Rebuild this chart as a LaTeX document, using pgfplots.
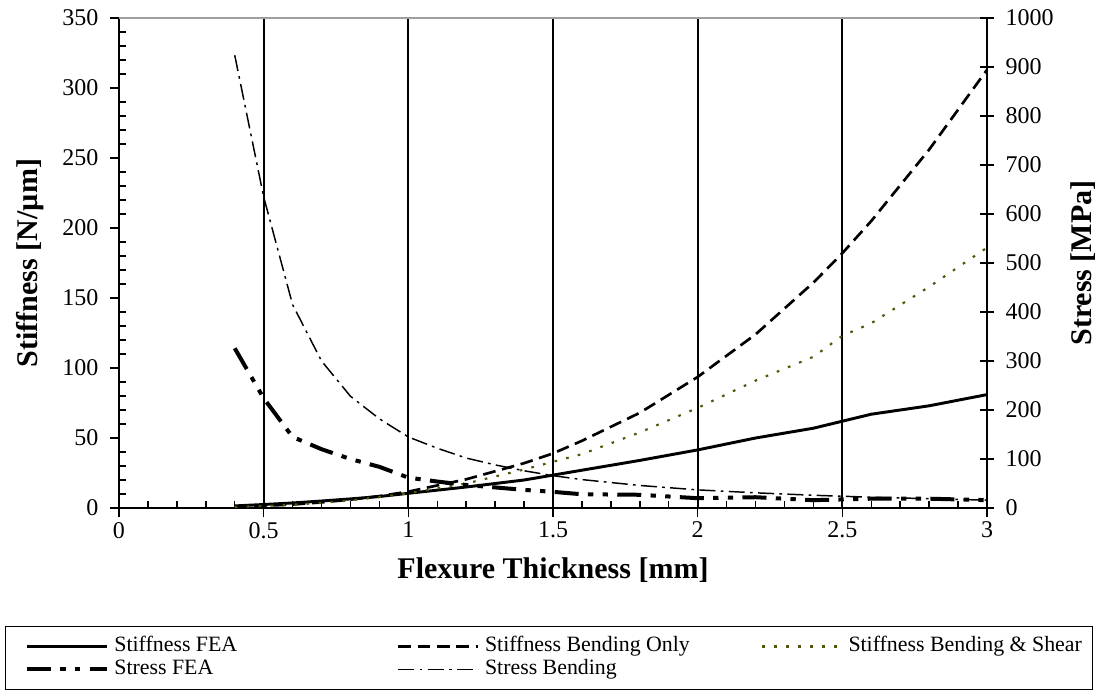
\documentclass[border=0pt]{standalone}
\usepackage{fontspec}
\setmainfont{Liberation Serif}
\usepackage{pgfplots}
\pgfplotsset{compat=1.18}
\definecolor{olivedot}{RGB}{85,85,10}

\tikzset{
  sfea/.style={black, line width=2.2pt},
  sbend/.style={black, line width=2pt, dash pattern=on 9.5pt off 5pt},
  sbs/.style={olivedot, line width=1.6pt, dash pattern=on 2pt off 7pt},
  tfea/.style={black, line width=3pt, dash pattern=on 18pt off 7pt on 4pt off 7pt on 4pt off 7pt},
  tbend/.style={black, line width=1.1pt, dash pattern=on 12pt off 4pt on 2pt off 4pt},
}

\begin{document}
\begin{tikzpicture}
\useasboundingbox (-89.25pt,-139.5pt) rectangle (741pt,381pt);

% left axis: stiffness
\begin{axis}[
  name=main, at={(0pt,0pt)}, anchor=south west,
  scale only axis, width=651pt, height=367.5pt,
  xmin=0, xmax=3, ymin=0, ymax=350,
  axis x line*=bottom, axis y line*=left,
  axis line style={line width=1.3pt, -},
  xtick={0,0.5,1,1.5,2,2.5,3},
  xticklabels={0,0.5,1,1.5,2,2.5,3},
  ytick={0,50,...,350},
  tick align=outside, major tick length=7pt,
  tick style={line width=1.1pt, black},
  xmajorgrids, major grid style={line width=1.4pt, black},
  extra x ticks={0.1,0.2,0.3,0.4,0.6,0.7,0.8,0.9,1.1,1.2,1.3,1.4,1.6,1.7,1.8,1.9,2.1,2.2,2.3,2.4,2.6,2.7,2.8,2.9},
  extra x tick labels={},
  extra x tick style={grid=none, tick align=inside, major tick length=5pt},
  extra y ticks={10,20,30,40,60,70,80,90,110,120,130,140,160,170,180,190,210,220,230,240,260,270,280,290,310,320,330,340},
  extra y tick labels={},
  extra y tick style={grid=none, tick align=inside, major tick length=5pt},
  ticklabel style={font=\fontsize{18}{20}\selectfont},
  yticklabel style={xshift=-5pt},
  /pgf/number format/assume math mode=true,
  /pgf/number format/1000 sep={},
  xlabel={Flexure Thickness [mm]},
  ylabel={Stiffness [N/µm]},
  label style={font=\fontsize{22.5}{26}\selectfont\bfseries},
  xlabel style={at={(axis description cs:0.5,-0.1265)}, anchor=center},
  ylabel style={at={(axis description cs:-0.1025,0.5)}, anchor=center},
  clip=false,
]
\draw[gray!75, line width=0.8pt] (rel axis cs:0,1) -- (rel axis cs:1,1);

% Stiffness FEA
\addplot[sfea] coordinates {
  (0.4,1.5) (0.5,2.5) (0.6,3.6) (0.7,5) (0.8,6.5) (0.9,8.2) (1.0,10.5)
  (1.2,15) (1.4,20) (1.5,23.5) (1.6,27) (1.8,34) (2.0,41.5) (2.2,50)
  (2.4,57) (2.5,62) (2.6,67) (2.8,73) (3.0,81)
};
% Stiffness Bending Only
\addplot[sbend] coordinates {
  (0.4,0.75) (0.5,1.5) (0.6,2.5) (0.7,4) (0.8,6) (0.9,8.5) (1.0,11.7)
  (1.2,20.5) (1.4,32) (1.5,39) (1.6,48) (1.8,68) (2.0,93.6) (2.2,124)
  (2.4,161) (2.5,182) (2.6,205) (2.8,256) (3.0,313)
};
% Stiffness Bending & Shear
\addplot[sbs] coordinates {
  (0.4,0.7) (0.5,1.4) (0.6,2.4) (0.7,3.7) (0.8,5.5) (0.9,7.8) (1.0,10.5)
  (1.2,17.5) (1.4,27.5) (1.5,33) (1.6,38.5) (1.8,54) (2.0,71.5) (2.2,91)
  (2.4,108) (2.5,123) (2.6,132) (2.8,158) (3.0,186)
};
\end{axis}

% right axis: stress
\begin{axis}[
  at={(0pt,0pt)}, anchor=south west,
  scale only axis, width=651pt, height=367.5pt,
  xmin=0, xmax=3, ymin=0, ymax=1000,
  axis x line=none, axis y line*=right,
  axis line style={line width=1.3pt, -},
  ytick={0,100,...,1000},
  tick align=center, major tick length=11pt,
  tick style={line width=1.1pt, black},
  ticklabel style={font=\fontsize{18}{20}\selectfont},
  yticklabel style={xshift=5pt},
  /pgf/number format/assume math mode=true,
  /pgf/number format/1000 sep={},
  ylabel={Stress [MPa]},
  label style={font=\fontsize{22.5}{26}\selectfont\bfseries},
  ylabel style={at={(axis description cs:1.1106,0.5)}, anchor=center},
  clip=false,
  legend columns=3,
  legend cell align=left,
  legend image code/.code={\draw[#1] (0pt,0pt) -- (60pt,0pt);},
  legend style={
    at={(axis description cs:-0.1319,-0.2408)}, anchor=north west,
    draw=black, line width=0.8pt,
    font=\fontsize{16.4}{19}\selectfont,
    inner xsep=15pt, inner ysep=7pt,
    nodes={inner xsep=4pt, inner ysep=0pt, text height=11.5pt, text depth=4.5pt},
    /tikz/row sep=1.2pt,
    /tikz/column sep=0pt,
  },
]
\addlegendimage{sfea}
\addlegendentry{\makebox[208pt][l]{Stiffness FEA}}
\addlegendimage{sbend}
\addlegendentry{\makebox[203pt][l]{Stiffness Bending Only}}
\addlegendimage{sbs}
\addlegendentry{\makebox[164pt][l]{Stiffness Bending \& Shear}}

% Stress FEA
\addplot[tfea] coordinates {
  (0.4,326) (0.5,224) (0.6,145) (0.7,120) (0.8,100) (0.9,84) (1.0,62)
  (1.1,54) (1.2,47) (1.3,42) (1.4,37) (1.5,33) (1.6,28) (1.8,27)
  (2.0,20) (2.2,22) (2.4,16) (2.6,19) (2.8,19) (3.0,16)
};
\addlegendentry{Stress FEA}
% Stress Bending
\addplot[tbend] coordinates {
  (0.4,924) (0.5,635) (0.6,415) (0.7,300) (0.8,228) (0.9,182) (1.0,145)
  (1.1,122) (1.2,102) (1.3,88) (1.4,76) (1.5,66) (1.6,58) (1.8,46)
  (2.0,37) (2.2,31) (2.4,26) (2.6,22) (2.8,19) (3.0,16)
};
\addlegendentry{Stress Bending}
\end{axis}
\end{tikzpicture}
\end{document}
